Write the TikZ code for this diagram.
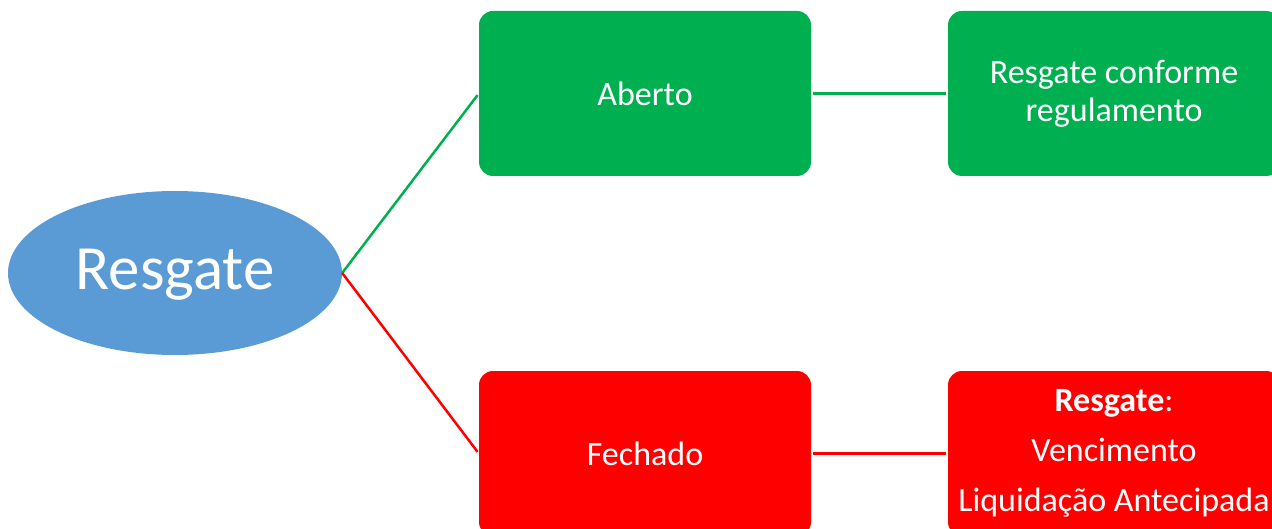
\documentclass[tikz,border=0pt]{standalone}
\usepackage{fontspec}
\setmainfont{Carlito}
\usetikzlibrary{shapes.geometric}
\definecolor{cgreen}{HTML}{00B050}
\definecolor{cred}{HTML}{FF0000}
\definecolor{cblue}{HTML}{5B9BD5}
\begin{document}
\begin{tikzpicture}[x=1pt,y=-1pt,
  box/.style={rounded corners=14pt, minimum width=332pt, minimum height=165pt, inner sep=0pt, text=white, align=center, font=\fontsize{34}{38}\selectfont},
  gbox/.style={box, fill=cgreen},
  rbox/.style={box, fill=cred},
  gline/.style={draw=cgreen, line width=2.5pt, shorten >=2pt, shorten <=2pt},
  rline/.style={draw=cred, line width=2.5pt, shorten >=2pt, shorten <=2pt}]
\useasboundingbox (0,0) rectangle (1272,529);
\clip (0,0) rectangle (1272,529);
\node[ellipse, fill=cblue, minimum width=334pt, minimum height=164pt, inner sep=0pt, text=white, text height=48pt, text depth=14pt, font=\fontsize{63}{70}\selectfont] (res) at (175,273) {Resgate};
\node[gbox] (ab) at (645,93.5) {Aberto};
\node[gbox] (rc) at (1114,93.5) {Resgate conforme\\regulamento};
\node[rbox] (fe) at (645,453.5) {Fechado};
\node[rbox, font=\fontsize{34}{50}\selectfont] (rv) at (1114,453.5) {\textbf{Resgate}:\\Vencimento\\Liquidação Antecipada};
\draw[gline, shorten <=0pt] (res.east) -- (ab.west);
\draw[rline, shorten <=0pt] (res.east) -- (fe.west);
\draw[gline] (ab.east) -- (rc.west);
\draw[rline] (fe.east) -- (rv.west);
\end{tikzpicture}
\end{document}
